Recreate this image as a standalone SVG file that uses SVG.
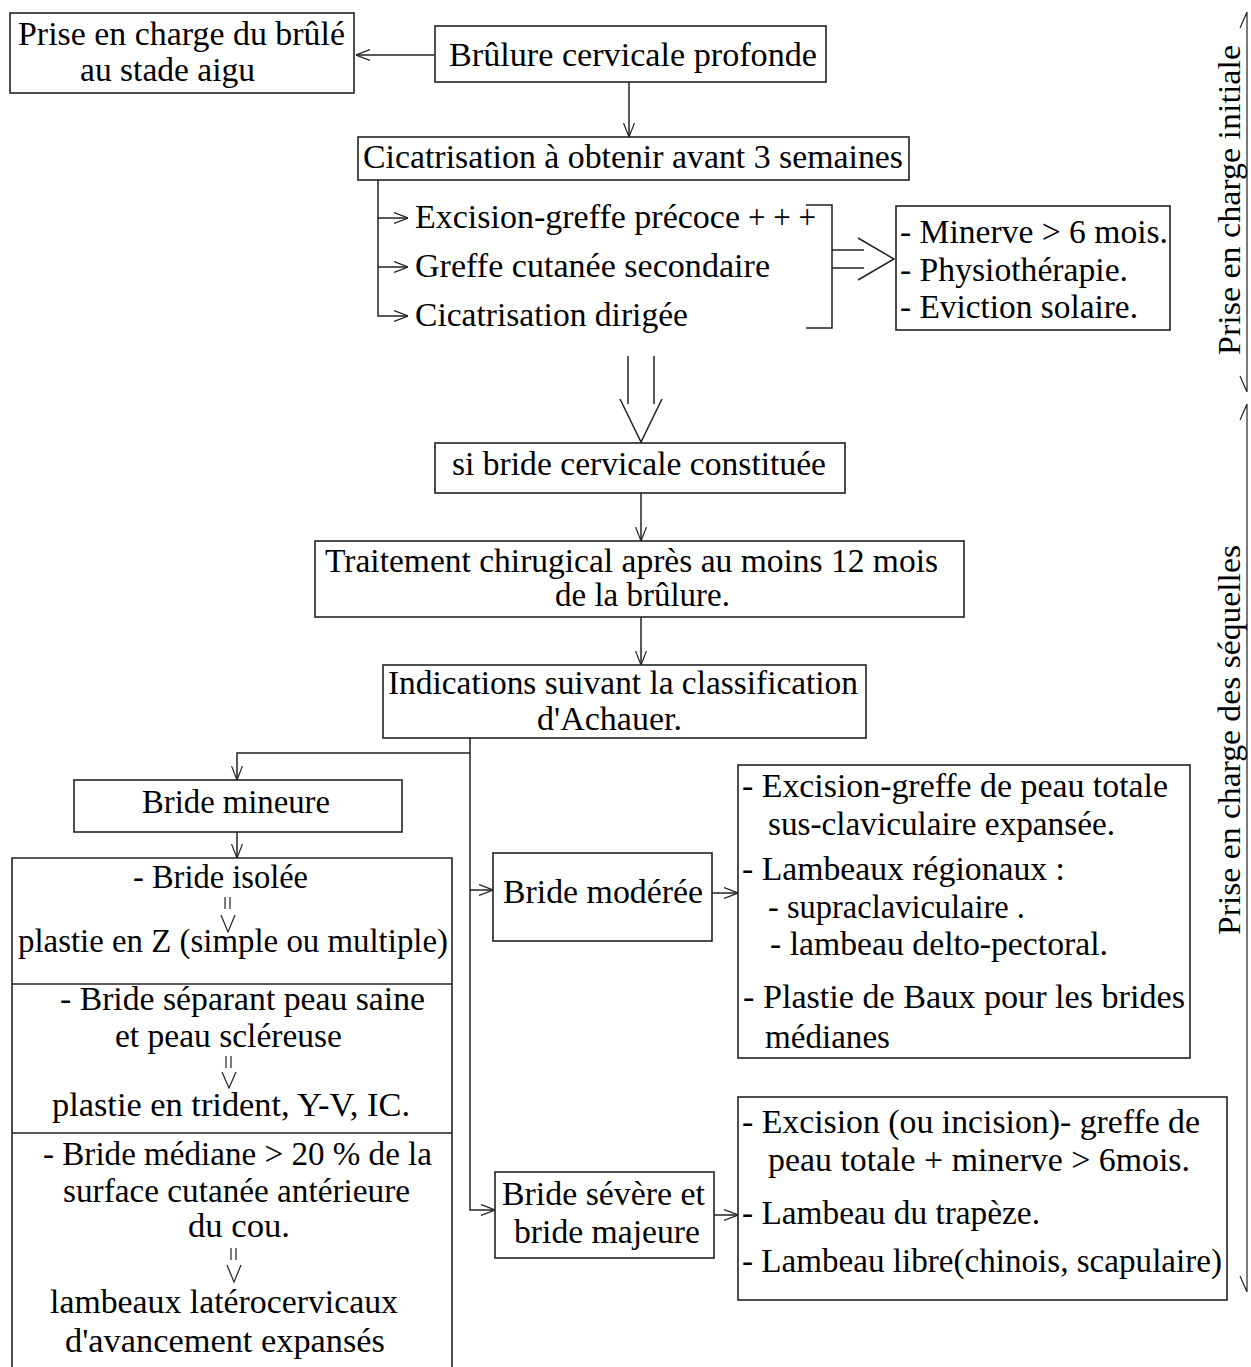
<svg xmlns="http://www.w3.org/2000/svg" width="1251" height="1367" viewBox="0 0 1251 1367">
<defs>
<style>
text{font-family:"Liberation Serif","Times New Roman",serif;font-size:33px;fill:#000}
.box{fill:#fff;stroke:#222;stroke-width:1.6}
.ln{fill:none;stroke:#222;stroke-width:1.5}
.th{fill:none;stroke:#222;stroke-width:1.2}
.c{text-anchor:middle}
.side{font-size:31px}
</style>
<marker id="a" viewBox="0 0 14 12" refX="14" refY="6" markerWidth="14" markerHeight="12" markerUnits="userSpaceOnUse" orient="auto">
<path d="M0,0.5 L14,6 L0,11.5" fill="none" stroke="#222" stroke-width="1.2"/>
</marker>
</defs>

<g id="connectors">
<line class="ln" x1="434" y1="55" x2="356" y2="55" marker-end="url(#a)"/>
<line class="ln" x1="629" y1="82" x2="629" y2="137" marker-end="url(#a)"/>
<polyline class="ln" points="378,180 378,316 408,316" marker-end="url(#a)"/>
<line class="ln" x1="378" y1="218" x2="408" y2="218" marker-end="url(#a)"/>
<line class="ln" x1="378" y1="267" x2="408" y2="267" marker-end="url(#a)"/>
<polyline class="ln" points="806,205 832,205 832,328 806,328"/>
<path class="ln" d="M832,250 H864 M832,268 H864 M858,238 L894,259 L858,280"/>
<path class="ln" d="M628,356 V404 M654,356 V404 M620,399 L641,442 L662,399"/>
<line class="ln" x1="641" y1="493" x2="641" y2="541" marker-end="url(#a)"/>
<line class="ln" x1="641" y1="617" x2="641" y2="665" marker-end="url(#a)"/>
<polyline class="ln" points="470,738 470,1210 495,1210" marker-end="url(#a)"/>
<polyline class="ln" points="470,753 237,753 237,780" marker-end="url(#a)"/>
<line class="ln" x1="470" y1="890" x2="493" y2="890" marker-end="url(#a)"/>
<line class="ln" x1="237" y1="832" x2="237" y2="858" marker-end="url(#a)"/>
<line class="ln" x1="712" y1="893" x2="738" y2="893" marker-end="url(#a)"/>
<line class="ln" x1="714" y1="1215" x2="738" y2="1215" marker-end="url(#a)"/>
<path class="th" d="M1247,12 V392 M1247,12 L1240,28 M1247,392 L1240,376"/>
<path class="th" d="M1247,404 V1292 M1247,404 L1240,420 M1247,1292 L1240,1276"/>
</g>

<g id="n-aigu">
<rect class="box" x="10" y="13" width="344" height="80"/>
<text x="18" y="45" textLength="327" lengthAdjust="spacingAndGlyphs">Prise en charge du brûlé</text>
<text x="80" y="81" textLength="175" lengthAdjust="spacingAndGlyphs">au stade aigu</text>
</g>

<g id="n-brulure">
<rect class="box" x="435" y="26" width="391" height="56"/>
<text x="449" y="66" textLength="368" lengthAdjust="spacingAndGlyphs">Brûlure cervicale  profonde</text>
</g>

<g id="n-cicatrisation">
<rect class="box" x="358" y="137" width="551" height="43"/>
<text x="363" y="168" textLength="540" lengthAdjust="spacingAndGlyphs">Cicatrisation à obtenir avant 3 semaines</text>
</g>

<g id="n-options">
<text x="415" y="228" textLength="325" lengthAdjust="spacingAndGlyphs">Excision-greffe précoce</text>
<text x="748" y="228" font-size="26" textLength="68" lengthAdjust="spacingAndGlyphs">+ + +</text>
<text x="415" y="277" textLength="355" lengthAdjust="spacingAndGlyphs">Greffe cutanée secondaire</text>
<text x="415" y="326" textLength="273" lengthAdjust="spacingAndGlyphs">Cicatrisation dirigée</text>
</g>

<g id="n-mesures">
<rect class="box" x="896" y="206" width="274" height="124"/>
<text x="900" y="243" textLength="268" lengthAdjust="spacingAndGlyphs">- Minerve &gt; 6 mois.</text>
<text x="900" y="281" textLength="228" lengthAdjust="spacingAndGlyphs">- Physiothérapie.</text>
<text x="900" y="318" textLength="238" lengthAdjust="spacingAndGlyphs">- Eviction solaire.</text>
</g>

<g id="n-bride-constituee">
<rect class="box" x="435" y="443" width="410" height="50"/>
<text x="452" y="475" textLength="374" lengthAdjust="spacingAndGlyphs">si bride cervicale constituée</text>
</g>

<g id="n-traitement">
<rect class="box" x="315" y="541" width="649" height="76"/>
<text x="325" y="572" textLength="613" lengthAdjust="spacingAndGlyphs">Traitement chirugical après au moins 12 mois</text>
<text x="555" y="606" textLength="175" lengthAdjust="spacingAndGlyphs">de la brûlure.</text>
</g>

<g id="n-indications">
<rect class="box" x="383" y="665" width="483" height="73"/>
<text x="388" y="694" textLength="470" lengthAdjust="spacingAndGlyphs">Indications suivant la classification</text>
<text x="537" y="730" textLength="145" lengthAdjust="spacingAndGlyphs">d'Achauer.</text>
</g>

<g id="n-mineure">
<rect class="box" x="74" y="780" width="328" height="52"/>
<text x="142" y="813" textLength="188" lengthAdjust="spacingAndGlyphs">Bride mineure</text>
</g>

<g id="n-mineure-detail">
<path class="box" d="M12,1367 V858 H452 V1367"/>
<line class="ln" x1="12" y1="984" x2="452" y2="984"/>
<line class="ln" x1="12" y1="1133" x2="452" y2="1133"/>
<text x="133" y="888" textLength="175" lengthAdjust="spacingAndGlyphs">- Bride isolée</text>
<path class="th" d="M225,897 V909 M230,897 V909 M221,915 L228,932 L235,915"/>
<text x="18" y="952" textLength="430" lengthAdjust="spacingAndGlyphs">plastie en Z (simple ou multiple)</text>
<text x="60" y="1010" textLength="365" lengthAdjust="spacingAndGlyphs">- Bride séparant peau saine</text>
<text x="115" y="1047" textLength="227" lengthAdjust="spacingAndGlyphs">et peau scléreuse</text>
<path class="th" d="M226,1056 V1068 M231,1056 V1068 M222,1072 L229,1088 L236,1072"/>
<text x="52" y="1116" textLength="358" lengthAdjust="spacingAndGlyphs">plastie en trident, Y-V, IC.</text>
<text x="43" y="1165" textLength="389" lengthAdjust="spacingAndGlyphs">- Bride médiane &gt; 20 % de la</text>
<text x="63" y="1202" textLength="347" lengthAdjust="spacingAndGlyphs">surface cutanée antérieure</text>
<text x="188" y="1237" textLength="102" lengthAdjust="spacingAndGlyphs">du cou.</text>
<path class="th" d="M231,1248 V1260 M236,1248 V1260 M227,1265 L234,1282 L241,1265"/>
<text x="50" y="1313" textLength="348" lengthAdjust="spacingAndGlyphs">lambeaux  latérocervicaux</text>
<text x="65" y="1352" textLength="320" lengthAdjust="spacingAndGlyphs">d'avancement  expansés</text>
</g>

<g id="n-moderee">
<rect class="box" x="493" y="853" width="219" height="88"/>
<text x="503" y="903" textLength="200" lengthAdjust="spacingAndGlyphs">Bride modérée</text>
</g>

<g id="n-moderee-detail">
<rect class="box" x="738" y="765" width="452" height="293"/>
<text x="742" y="797" textLength="426" lengthAdjust="spacingAndGlyphs">- Excision-greffe de peau totale</text>
<text x="768" y="835" textLength="347" lengthAdjust="spacingAndGlyphs">sus-claviculaire expansée.</text>
<text x="742" y="880" textLength="323" lengthAdjust="spacingAndGlyphs">-  Lambeaux régionaux :</text>
<text x="768" y="918" textLength="257" lengthAdjust="spacingAndGlyphs">- supraclaviculaire .</text>
<text x="770" y="955" textLength="338" lengthAdjust="spacingAndGlyphs">- lambeau delto-pectoral.</text>
<text x="743" y="1008" textLength="442" lengthAdjust="spacingAndGlyphs">- Plastie de Baux pour les brides</text>
<text x="765" y="1048" textLength="125" lengthAdjust="spacingAndGlyphs">médianes</text>
</g>

<g id="n-severe">
<rect class="box" x="495" y="1172" width="219" height="86"/>
<text x="502" y="1205" textLength="203" lengthAdjust="spacingAndGlyphs">Bride sévère et</text>
<text x="514" y="1243" textLength="186" lengthAdjust="spacingAndGlyphs">bride majeure</text>
</g>

<g id="n-severe-detail">
<rect class="box" x="738" y="1097" width="489" height="203"/>
<text x="742" y="1133" textLength="458" lengthAdjust="spacingAndGlyphs">- Excision (ou incision)- greffe de</text>
<text x="768" y="1171" textLength="422" lengthAdjust="spacingAndGlyphs">peau totale + minerve &gt; 6mois.</text>
<text x="742" y="1224" textLength="298" lengthAdjust="spacingAndGlyphs">- Lambeau du trapèze.</text>
<text x="742" y="1272" textLength="480" lengthAdjust="spacingAndGlyphs">- Lambeau libre(chinois, scapulaire)</text>
</g>

<g id="side-labels">
<text class="side" transform="translate(1240,355) rotate(-90)" textLength="310" lengthAdjust="spacingAndGlyphs">Prise en charge initiale</text>
<text class="side" transform="translate(1240,935) rotate(-90)" textLength="390" lengthAdjust="spacingAndGlyphs">Prise en charge des séquelles</text>
</g>
</svg>
